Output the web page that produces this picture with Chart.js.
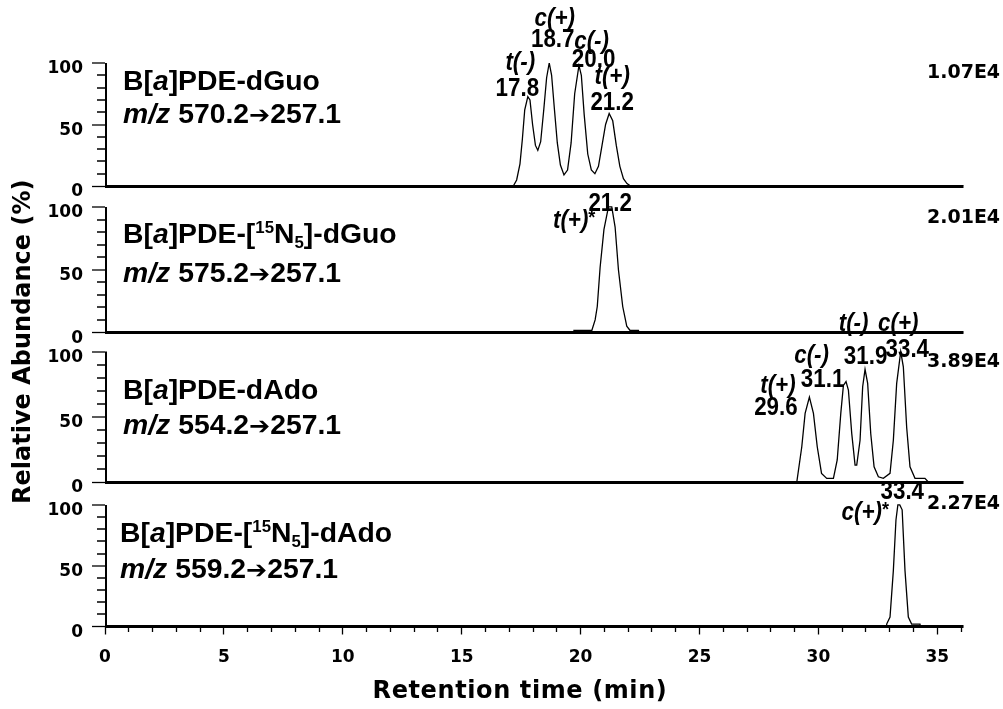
<!DOCTYPE html>
<html>
<head>
<meta charset="utf-8">
<title>SRM chromatograms</title>
<script src="https://cdn.jsdelivr.net/npm/chart.js@4.4.1/dist/chart.umd.min.js"></script>
<style>
  html, body { margin: 0; padding: 0; background: #fff; }
  #wrap { position: relative; width: 1003px; height: 709px; }
</style>
</head>
<body>
<div id="wrap"><canvas id="chromChart"></canvas></div>
<script>
// ---------------------------------------------------------------
// DATA: retention time (min) vs relative abundance (%) per SRM trace
// ---------------------------------------------------------------
var timeTickLabels = [0, 5, 10, 15, 20, 25, 30, 35];
var abundanceTicks = [0, 10, 20, 30, 40, 50, 60, 70, 80, 90, 100];
var abundanceTickLabels = [0, 50, 100];

// B[a]PDE-dGuo, m/z 570.2 -> 257.1
var dGuoTime  = [0, 17.17, 17.31, 17.45, 17.55, 17.65, 17.78, 17.87, 17.98, 18.10, 18.20, 18.32, 18.45, 18.57, 18.68, 18.78, 18.90, 19.02, 19.15, 19.30, 19.45, 19.60, 19.75, 19.93, 20.03, 20.15, 20.30, 20.45, 20.60, 20.75, 20.90, 21.05, 21.20, 21.35, 21.50, 21.65, 21.80, 21.95, 22.10, 36.1];
var dGuoAbund = [0, 0, 4.9, 18, 38, 62, 72.6, 70, 50, 33, 29, 36, 62, 88, 100, 90, 62, 35, 17, 9, 13, 35, 75, 98, 90, 58, 26, 13, 10, 16, 33, 50, 59, 53, 33, 16, 6, 2, 0, 0];

// B[a]PDE-[15N5]-dGuo, m/z 575.2 -> 257.1
var dGuoN15Time  = [0, 19.69, 19.72, 20.47, 20.61, 20.70, 20.82, 20.98, 21.17, 21.31, 21.45, 21.59, 21.77, 21.94, 22.08, 22.43, 22.46, 36.1];
var dGuoN15Abund = [0, 0, 1.6, 1.6, 10, 20.7, 52, 82, 100, 100, 84, 50, 20.7, 5, 1.6, 1.6, 0, 0];

// B[a]PDE-dAdo, m/z 554.2 -> 257.1
var dAdoTime  = [0, 29.09, 29.30, 29.44, 29.62, 29.79, 29.95, 30.13, 30.35, 30.63, 30.79, 30.94, 31.05, 31.16, 31.26, 31.40, 31.54, 31.61, 31.75, 31.86, 31.96, 32.07, 32.20, 32.34, 32.52, 32.73, 33.01, 33.15, 33.29, 33.46, 33.57, 33.71, 33.85, 34.06, 34.48, 34.62, 36.1];
var dAdoAbund = [0, 0, 27, 52.6, 65, 52.6, 27, 6.6, 2.8, 2.8, 16.9, 52.6, 74, 77, 70.5, 37.3, 13, 13, 32, 73, 86.3, 75.6, 37, 11.7, 4, 2.8, 6.6, 32, 75.6, 100, 88.3, 42, 11.7, 2.8, 2.8, 0, 0];

// B[a]PDE-[15N5]-dAdo, m/z 559.2 -> 257.1
var dAdoN15Time  = [0, 32.85, 32.87, 33.01, 33.15, 33.26, 33.34, 33.42, 33.52, 33.64, 33.78, 33.92, 34.27, 34.29, 36.1];
var dAdoN15Abund = [0, 0, 2, 7.7, 46, 87.6, 100, 100, 96, 46, 7.7, 2, 2, 0, 0];

// panel captions
var panelNucleoside = ['dGuo', 'dGuo', 'dAdo', 'dAdo'];
var panelLabelled = [false, true, false, true];
var panelPrecursor = ['570.2', '575.2', '554.2', '559.2'];
var productIon = '257.1';
var panelIntensity = ['1.07E4', '2.01E4', '3.89E4', '2.27E4'];

// annotated peaks
var peakPanel = [0, 0, 0, 0, 1, 2, 2, 2, 2, 3];
var peakTime = [17.8, 18.7, 20.0, 21.2, 21.2, 29.6, 31.1, 31.9, 33.4, 33.4];
var peakHeight = [72, 100, 98, 59, 100, 65, 77, 86, 100, 100];
var peakIsomer = ['t(-)', 'c(+)', 'c(-)', 't(+)', 't(+)*', 't(+)', 'c(-)', 't(-)', 'c(+)', 'c(+)*'];

// ---------------------------------------------------------------
// LAYOUT (pixels) - kept apart from the data
// ---------------------------------------------------------------
var panelIds = ['y1', 'y2', 'y3', 'y4'];
var panelMax = [100, 116.7, 114.6, 118.9];        // headroom above 100 = gap between panels
var panelWeight = [123, 146.5, 149.5, 144.5];
var nameLeft = [123, 123, 123, 120];
var nameLine1 = [27, 36, 47, 37];                  // baseline, px below the 100 line
var nameLine2 = [60, 75, 82, 73];
var intensityLeft = 927;
var intensityDy = [10, 11, 11, -1];
var xTitlePos = [520, 692];
// [isomer dx, dy, time dx, dy] relative to the peak apex
var peakLabelOffsets = [
  [-8, -35, -11, -9],
  [5, -44, 3, -23],
  [11, -24, 13, -6],
  [3, -37, 3, -11],
  [-35, 14, 1, -3],
  [-31, -11, -33, 11],
  [-33, -26, -22, -2],
  [-10, -46, 2, -13],
  [-1, -28, 8, -2],
  [-34, 8, 3, -13]
];

var SANS = '"Liberation Sans", Arial, sans-serif';
var WIDE = '"DejaVu Sans", sans-serif';

function toPoints(times, values) {
  return times.map(function (t, i) { return { x: t, y: values[i] }; });
}

function segFont(st, size) {
  if (st === 'i') return 'italic bold ' + size + 'px ' + SANS;
  if (st === 'sup' || st === 'sub') return 'bold ' + Math.round(size * 0.6) + 'px ' + SANS;
  if (st === 'star') return 'bold ' + Math.round(size * 0.8) + 'px ' + SANS;
  if (st === 'arrow') return 'bold ' + Math.round(size * 0.9) + 'px ' + WIDE;
  return 'bold ' + size + 'px ' + SANS;
}
function richWidth(ctx, segs, size) {
  var w = 0;
  segs.forEach(function (s) {
    ctx.font = segFont(s[1], size);
    w += ctx.measureText(s[0]).width;
  });
  return w;
}
// draw a run of styled text pieces, squeezed/stretched horizontally by sx
function drawRich(ctx, x, y, segs, size, sx, align) {
  ctx.save();
  ctx.translate(x, y);
  ctx.scale(sx, 1);
  var cx = align === 'center' ? -richWidth(ctx, segs, size) / 2 : 0;
  ctx.textAlign = 'left';
  segs.forEach(function (s) {
    var dy = 0;
    if (s[1] === 'sup') dy = -size * 0.36;
    if (s[1] === 'sub') dy = size * 0.2;
    if (s[1] === 'star') dy = -size * 0.12;
    ctx.font = segFont(s[1], size);
    ctx.fillText(s[0], cx, dy);
    cx += ctx.measureText(s[0]).width;
  });
  ctx.restore();
}

function nameSegments(i) {
  var segs = [['B[', 'b'], ['a', 'i']];
  if (panelLabelled[i]) {
    segs.push([']PDE-[', 'b'], ['15', 'sup'], ['N', 'b'], ['5', 'sub'], [']-' + panelNucleoside[i], 'b']);
  } else {
    segs.push([']PDE-' + panelNucleoside[i], 'b']);
  }
  return segs;
}

// ---------------------------------------------------------------
// PLUGIN: axis spines, captions, peak annotations, axis titles
// ---------------------------------------------------------------
var annotatePlugin = {
  id: 'chromAnnotations',
  afterDraw: function (chart) {
    var ctx = chart.ctx;
    var xs = chart.scales.x;
    var left = chart.chartArea.left;
    ctx.save();
    ctx.fillStyle = '#000';
    ctx.strokeStyle = '#000';

    panelIds.forEach(function (id, i) {
      var ys = chart.scales[id];
      var top = ys.getPixelForValue(100);
      var bottom = ys.getPixelForValue(0);

      // vertical spine 0..100 only
      ctx.lineWidth = 2;
      ctx.beginPath();
      ctx.moveTo(left + 1, top);
      ctx.lineTo(left + 1, bottom);
      ctx.stroke();

      ctx.textBaseline = 'alphabetic';
      drawRich(ctx, nameLeft[i], top + nameLine1[i], nameSegments(i), 27, 1.05, 'left');
      drawRich(ctx, nameLeft[i], top + nameLine2[i],
        [['m/z', 'i'], [' ' + panelPrecursor[i], 'b'], ['\u2794', 'arrow'], [productIon, 'b']], 27, 1.05, 'left');

      ctx.textBaseline = 'middle';
      ctx.textAlign = 'left';
      ctx.font = 'bold 19px ' + WIDE;
      ctx.fillText(panelIntensity[i], intensityLeft, top + intensityDy[i]);
    });

    // peak labels
    ctx.textBaseline = 'middle';
    peakTime.forEach(function (t, k) {
      var ys = chart.scales[panelIds[peakPanel[k]]];
      var px = xs.getPixelForValue(t);
      var py = ys.getPixelForValue(peakHeight[k]);
      var off = peakLabelOffsets[k];
      var iso = peakIsomer[k];
      var segs = iso.slice(-1) === '*' ? [[iso.slice(0, -1), 'i'], ['*', 'star']] : [[iso, 'i']];
      drawRich(ctx, px + off[0], py + off[1], segs, 26, 0.86, 'center');
      drawRich(ctx, px + off[2], py + off[3], [[t.toFixed(1), 'b']], 26, 0.86, 'center');
    });

    // x title (slightly letter-spaced, as in the figure)
    ctx.textAlign = 'center';
    ctx.textBaseline = 'middle';
    ctx.font = 'bold 24px ' + WIDE;
    ctx.letterSpacing = '0.6px';
    ctx.fillText('Retention time (min)', xTitlePos[0], xTitlePos[1]);
    ctx.letterSpacing = '0px';

    // shared y title
    var yTop = chart.scales.y1.getPixelForValue(100);
    var yBot = chart.scales.y4.getPixelForValue(0);
    ctx.translate(24, (yTop + yBot) / 2 - 3);
    ctx.rotate(-Math.PI / 2);
    ctx.fillText('Relative Abundance (%)', 0, 0);
    ctx.restore();
  }
};

function panelScale(i) {
  return {
    type: 'linear',
    position: 'left',
    stack: 'panels',
    stackWeight: panelWeight[i],
    weight: 4 - i,
    min: 0,
    max: panelMax[i],
    afterBuildTicks: function (scale) {
      scale.ticks = abundanceTicks.map(function (v) { return { value: v }; });
    },
    afterFit: function (scale) { scale.width = 105; },
    border: { display: false },
    grid: {
      color: function (c) { return c.tick && c.tick.value === 0 ? '#000' : 'rgba(0,0,0,0)'; },
      lineWidth: function (c) { return c.tick && c.tick.value === 0 ? 3 : 0; },
      tickLength: 13,
      tickColor: '#000',
      tickWidth: 1.3,
      tickBorderDash: function (c) {
        return c.tick && abundanceTickLabels.indexOf(c.tick.value) >= 0 ? [] : [0, 5, 20, 0];
      }
    },
    ticks: {
      autoSkip: false,
      padding: 9,
      labelOffset: 6,
      color: '#000',
      font: { family: WIDE, weight: 'bold', size: 17 },
      callback: function (v) { return abundanceTickLabels.indexOf(v) >= 0 ? String(v) : ''; }
    }
  };
}

var traceStyle = { borderColor: '#000', borderWidth: 1.3, pointRadius: 0, tension: 0, fill: false };

var scales = {
  x: {
    type: 'linear',
    min: 0,
    max: 36.1,
    afterFit: function (scale) { scale.height = 50; },
    border: { display: false },
    grid: {
      drawOnChartArea: false,
      tickLength: 8,
      tickColor: '#000',
      tickWidth: 1.3,
      tickBorderDash: function (c) {
        return c.tick && timeTickLabels.indexOf(c.tick.value) >= 0 ? [] : [5, 20];
      }
    },
    ticks: {
      stepSize: 1,
      autoSkip: false,
      maxRotation: 0,
      includeBounds: false,
      padding: 13,
      color: '#000',
      font: { family: WIDE, weight: 'bold', size: 17 },
      callback: function (v) { return timeTickLabels.indexOf(v) >= 0 ? String(v) : ''; }
    },
    title: { display: false }
  }
};
panelIds.forEach(function (id, i) { scales[id] = panelScale(i); });

new Chart(document.getElementById('chromChart'), {
  type: 'line',
  data: {
    datasets: [
      Object.assign({ label: 'B[a]PDE-dGuo', yAxisID: 'y1', data: toPoints(dGuoTime, dGuoAbund) }, traceStyle),
      Object.assign({ label: 'B[a]PDE-[15N5]-dGuo', yAxisID: 'y2', data: toPoints(dGuoN15Time, dGuoN15Abund) }, traceStyle),
      Object.assign({ label: 'B[a]PDE-dAdo', yAxisID: 'y3', data: toPoints(dAdoTime, dAdoAbund) }, traceStyle),
      Object.assign({ label: 'B[a]PDE-[15N5]-dAdo', yAxisID: 'y4', data: toPoints(dAdoN15Time, dAdoN15Abund) }, traceStyle)
    ]
  },
  options: {
    responsive: true,
    maintainAspectRatio: false,
    animation: false,
    devicePixelRatio: 1,
    layout: { padding: { top: 63, right: 39.5, bottom: 32.5, left: 0 } },
    plugins: { legend: { display: false }, tooltip: { enabled: false } },
    scales: scales
  },
  plugins: [annotatePlugin]
});
</script>
</body>
</html>
